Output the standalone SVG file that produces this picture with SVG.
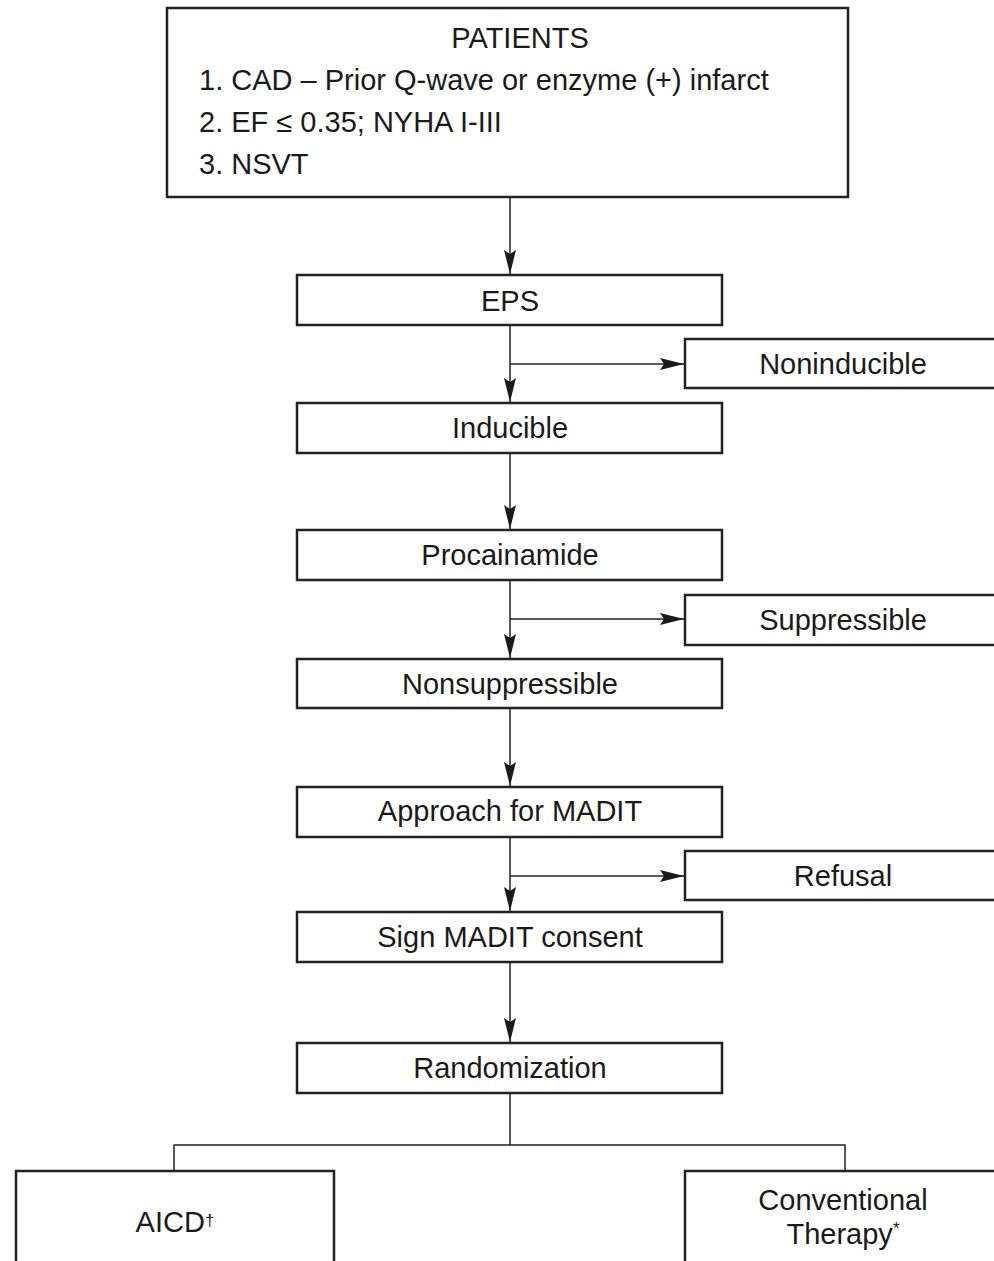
<svg xmlns="http://www.w3.org/2000/svg" width="994" height="1261" viewBox="0 0 994 1261">
<style>
rect{fill:#fff;stroke:#222;stroke-width:2.5}
text{font-family:"Liberation Sans",Arial,sans-serif;font-size:29px;fill:#1a1a1a}
.c{text-anchor:middle}
.sup{font-size:17px}
.ln{stroke:#222;stroke-width:1.5;fill:none}
</style>
<defs>
<marker id="ah" viewBox="0 0 24 12" refX="24" refY="6" markerWidth="24" markerHeight="12" markerUnits="userSpaceOnUse" orient="auto">
<path d="M0,0 L24,6 L0,12 L4,6 z" fill="#1a1a1a"/>
</marker>
</defs>
<rect x="0" y="0" width="994" height="1261" style="fill:#fff;stroke:none"/>
<g id="connectors">
<line class="ln" x1="510" y1="197" x2="510" y2="274" marker-end="url(#ah)"/>
<line class="ln" x1="510" y1="325" x2="510" y2="402" marker-end="url(#ah)"/>
<line class="ln" x1="510" y1="364" x2="684" y2="364" marker-end="url(#ah)"/>
<line class="ln" x1="510" y1="453" x2="510" y2="529" marker-end="url(#ah)"/>
<line class="ln" x1="510" y1="580" x2="510" y2="658" marker-end="url(#ah)"/>
<line class="ln" x1="510" y1="619" x2="684" y2="619" marker-end="url(#ah)"/>
<line class="ln" x1="510" y1="708" x2="510" y2="786" marker-end="url(#ah)"/>
<line class="ln" x1="510" y1="837" x2="510" y2="911" marker-end="url(#ah)"/>
<line class="ln" x1="510" y1="876" x2="684" y2="876" marker-end="url(#ah)"/>
<line class="ln" x1="510" y1="962" x2="510" y2="1042" marker-end="url(#ah)"/>
<polyline class="ln" points="510,1093 510,1145"/>
<polyline class="ln" points="174,1171 174,1145 845,1145 845,1171"/>
</g>
<g id="patients">
<rect x="167" y="8" width="681" height="189"/>
<text class="c" x="520" y="48">PATIENTS</text>
<text x="199" y="90">1. CAD – Prior Q-wave or enzyme (+) infarct</text>
<text x="199" y="132">2. EF ≤ 0.35; NYHA I-III</text>
<text x="199" y="174">3. NSVT</text>
</g>
<g id="eps"><rect x="297" y="275" width="425" height="50"/><text class="c" x="510" y="311">EPS</text></g>
<g id="noninducible"><rect x="685" y="339" width="320" height="49"/><text class="c" x="843" y="374">Noninducible</text></g>
<g id="inducible"><rect x="297" y="403" width="425" height="50"/><text class="c" x="510" y="438">Inducible</text></g>
<g id="procainamide"><rect x="297" y="530" width="425" height="50"/><text class="c" x="510" y="565">Procainamide</text></g>
<g id="suppressible"><rect x="685" y="595" width="320" height="50"/><text class="c" x="843" y="630">Suppressible</text></g>
<g id="nonsuppressible"><rect x="297" y="659" width="425" height="49"/><text class="c" x="510" y="694">Nonsuppressible</text></g>
<g id="approach"><rect x="297" y="787" width="425" height="50"/><text class="c" x="510" y="821">Approach for MADIT</text></g>
<g id="refusal"><rect x="685" y="851" width="320" height="49"/><text class="c" x="843" y="886">Refusal</text></g>
<g id="sign"><rect x="297" y="912" width="425" height="50"/><text class="c" x="510" y="947">Sign MADIT consent</text></g>
<g id="randomization"><rect x="297" y="1043" width="425" height="50"/><text class="c" x="510" y="1078">Randomization</text></g>
<g id="aicd"><rect x="16" y="1171" width="318" height="110"/><text class="c" x="175" y="1232">AICD<tspan class="sup" dy="-6">†</tspan></text></g>
<g id="conventional"><rect x="685" y="1171" width="320" height="110"/><text class="c" x="843" y="1210" font-size="28">Conventional</text><text class="c" x="843" y="1244" font-size="28">Therapy<tspan class="sup" dy="-10">*</tspan></text></g>
</svg>
